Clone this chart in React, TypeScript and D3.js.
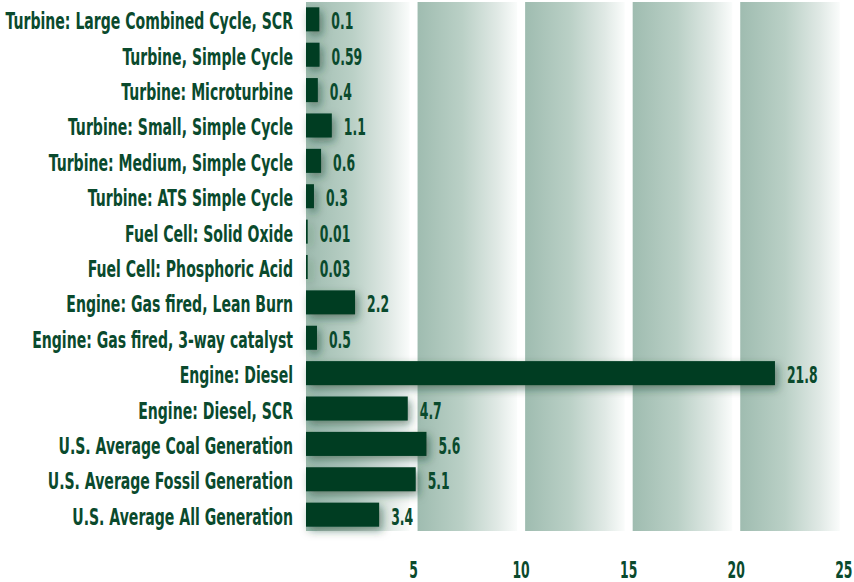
import React from "react";
import * as d3 from "d3";

const width = 854;
const height = 582;

const categories = [
  "Turbine: Large Combined Cycle, SCR",
  "Turbine, Simple Cycle",
  "Turbine: Microturbine",
  "Turbine: Small, Simple Cycle",
  "Turbine: Medium, Simple Cycle",
  "Turbine: ATS Simple Cycle",
  "Fuel Cell: Solid Oxide",
  "Fuel Cell: Phosphoric Acid",
  "Engine: Gas fired, Lean Burn",
  "Engine: Gas fired, 3-way catalyst",
  "Engine: Diesel",
  "Engine: Diesel, SCR",
  "U.S. Average Coal Generation",
  "U.S. Average Fossil Generation",
  "U.S. Average All Generation",
];
// bar lengths as drawn in the picture
const barValues = [0.62, 0.63, 0.55, 1.2, 0.7, 0.37, 0.08, 0.08, 2.28, 0.51, 21.8, 4.73, 5.6, 5.1, 3.4];
// printed labels
const valueLabels = ["0.1", "0.59", "0.4", "1.1", "0.6", "0.3", "0.01", "0.03", "2.2", "0.5", "21.8", "4.7", "5.6", "5.1", "3.4"];
const tickValues = [5, 10, 15, 20, 25];
const bandStarts = [0, 5, 10, 15, 20];

const barColor = "#003d23";
const textColor = "#0a4a2d";
const font = "'DejaVu Sans Condensed', 'DejaVu Sans', sans-serif";
const squeeze = 0.68; // condensed look of the original face
const numSqueeze = 0.6;

const x = d3.scaleLinear().domain([0, 25]).range([306, 843.8]);
const y = d3
  .scaleBand<string>()
  .domain(categories)
  .range([2, 532])
  .paddingInner(0.32)
  .paddingOuter(0.15);

const App = () => {
  const bw = y.bandwidth();
  return (
    <svg
      width={width}
      height={height}
      style={{ position: "absolute", left: 0, top: 0, background: "#fff" }}
    >
      <defs>
        <linearGradient id="band" x1="0" x2="1" y1="0" y2="0">
          <stop offset="0%" stopColor="#9fbcb0" />
          <stop offset="45%" stopColor="#bad0c6" />
          <stop offset="80%" stopColor="#e0e9e5" />
          <stop offset="100%" stopColor="#fafcfb" />
        </linearGradient>
        <filter id="shadow" x="-10%" y="-60%" width="130%" height="240%">
          <feDropShadow dx="3" dy="4" stdDeviation="4" floodColor="#0b3a25" floodOpacity="0.5" />
        </filter>
      </defs>

      {/* background bands */}
      {bandStarts.map((v) => {
        const x0 = v === 0 ? x(0) : x(v) + 4;
        const x1 = x(v + 5) - 4;
        return <rect key={v} x={x0} y={2} width={x1 - x0} height={529} fill="url(#band)" />;
      })}

      {/* bars */}
      <g filter="url(#shadow)">
        {categories.map((c, i) => (
          <rect
            key={c}
            x={x(0)}
            y={y(c)}
            width={x(barValues[i]) - x(0)}
            height={bw}
            fill={barColor}
          />
        ))}
      </g>

      {/* category labels */}
      <g fill={textColor} fontFamily={font} fontWeight="bold" fontSize={23}>
        {categories.map((c) => (
          <g key={c} transform={`translate(293,${(y(c) ?? 0) + bw / 2 + 10}) scale(${squeeze},1)`}>
            <text textAnchor="end">{c}</text>
          </g>
        ))}
      </g>

      {/* value labels */}
      <g fill={textColor} fontFamily={font} fontWeight="bold" fontSize={23}>
        {categories.map((c, i) => (
          <g
            key={c}
            transform={`translate(${x(barValues[i]) + 12},${(y(c) ?? 0) + bw / 2 + 10}) scale(${numSqueeze},1)`}
          >
            <text>{valueLabels[i]}</text>
          </g>
        ))}
      </g>

      {/* x axis tick labels */}
      <g fill={textColor} fontFamily={font} fontWeight="bold" fontSize={23}>
        {x.ticks(5).filter((t) => tickValues.includes(t)).map((t) => (
          <g key={t} transform={`translate(${x(t)},578) scale(${numSqueeze},1)`}>
            <text textAnchor="middle">{t}</text>
          </g>
        ))}
      </g>
    </svg>
  );
};

export default App;
